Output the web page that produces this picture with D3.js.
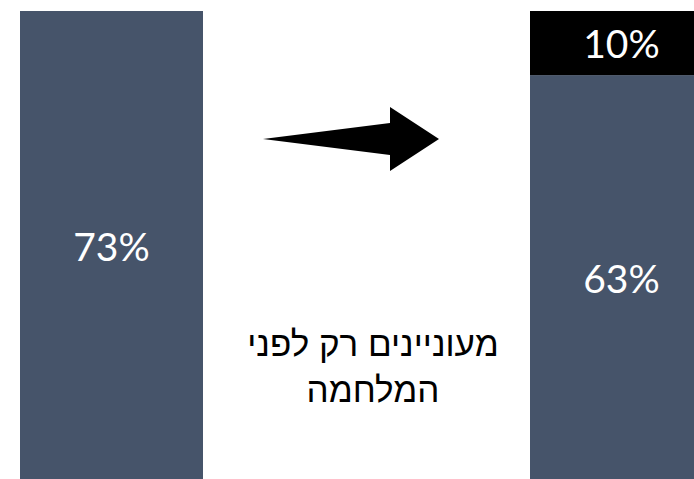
<!DOCTYPE html>
<html><head><meta charset="utf-8">
<script src="https://cdn.jsdelivr.net/npm/d3@7"></script>
<style>html,body{margin:0;padding:0;background:#fff;overflow:hidden}</style>
</head><body>
<svg id="c" width="694" height="479"></svg>
<script>
const categories = ["before", "after"];
const baseValues = [73, 63];
const topValues = [0, 10];
const baseLabels = ["73%", "63%"];
const topLabels = ["", "10%"];
const noteLines = ["מעוניינים רק לפני", "המלחמה"];

const svg = d3.select("#c");
const x = d3.scaleOrdinal().domain(categories).range([20, 530]);
const barW = 183;
const y = d3.scaleLinear().domain([0, 73]).range([479, 11]);
const slate = "#46546a";

categories.forEach((c, i) => {
  const x0 = x(c);
  svg.append("rect").attr("x", x0).attr("width", barW)
    .attr("y", y(baseValues[i])).attr("height", y(0) - y(baseValues[i])).attr("fill", slate);
  svg.append("text").attr("x", x0 + barW / 2).attr("y", (y(0) + y(baseValues[i])) / 2 + 1)
    .attr("text-anchor", "middle").attr("dominant-baseline", "central")
    .attr("font-family", "Lato").attr("font-size", 39).attr("fill", "#fff").text(baseLabels[i]);
  if (topValues[i] > 0) {
    const t = baseValues[i] + topValues[i];
    svg.append("rect").attr("x", x0).attr("width", barW)
      .attr("y", y(t)).attr("height", y(baseValues[i]) - y(t)).attr("fill", "#000");
    svg.append("text").attr("x", x0 + barW / 2).attr("y", (y(t) + y(baseValues[i])) / 2)
      .attr("text-anchor", "middle").attr("dominant-baseline", "central")
      .attr("font-family", "Lato").attr("font-size", 39).attr("fill", "#fff").text(topLabels[i]);
  }
});

// arrow
const arrowPts = [[263,139],[390,123],[390,107],[439,139],[390,171],[390,155]];
svg.append("path").attr("d", d3.line()(arrowPts) + "Z").attr("fill", "#000");

const note = svg.append("text").attr("text-anchor", "middle")
  .attr("font-family", "'Liberation Sans', 'DejaVu Sans'").attr("font-size", 35).attr("fill", "#000")
  .attr("direction", "rtl");
noteLines.forEach((l, i) => {
  note.append("tspan").attr("x", 373).attr("y", 356 + i * 46).text(l);
});
</script>
</body></html>
